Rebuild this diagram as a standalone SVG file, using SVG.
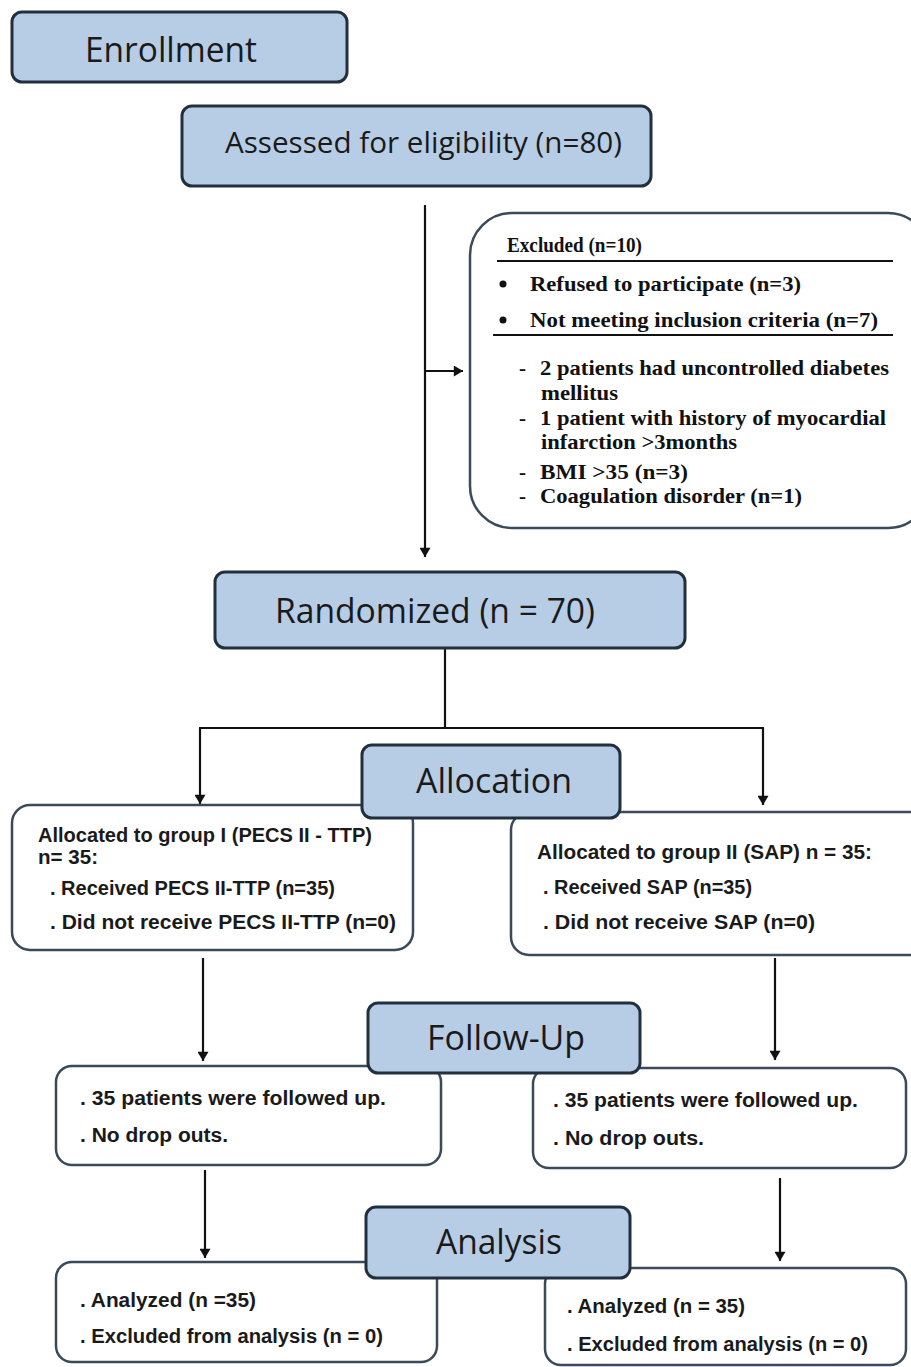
<svg xmlns="http://www.w3.org/2000/svg" width="911" height="1367" viewBox="0 0 911 1367">
<defs>
<marker id="ah" viewBox="0 0 10 12" refX="10" refY="6" markerWidth="12" markerHeight="11" markerUnits="userSpaceOnUse" orient="auto">
<path d="M0,0 L10,6 L0,12 z" fill="#111"/>
</marker>
<style>
.blue{fill:#b7cde5;stroke:#22303e;stroke-width:3}
.white{fill:#fff;stroke:#3b4a5a;stroke-width:2.5}
.hd{font-family:"Open Sans","Liberation Sans",sans-serif;fill:#1a1a1a}
.ser{font-family:"Liberation Serif",serif;font-size:21px;font-weight:bold;fill:#111}
.bd{font-family:"Liberation Sans",sans-serif;font-weight:bold;font-size:19.5px;fill:#1a1a1a}
.ln{stroke:#111;stroke-width:2.2;fill:none}
</style>
</defs>
<rect width="911" height="1367" fill="#fff"/>

<g id="connectors">
<line class="ln" x1="425" y1="205" x2="425" y2="557" marker-end="url(#ah)"/>
<line class="ln" x1="425" y1="371" x2="463" y2="371" marker-end="url(#ah)"/>
<line class="ln" x1="445" y1="648" x2="445" y2="728"/>
<line class="ln" x1="199" y1="728" x2="764" y2="728"/>
<line class="ln" x1="200" y1="728" x2="200" y2="804" marker-end="url(#ah)"/>
<line class="ln" x1="763" y1="728" x2="763" y2="805" marker-end="url(#ah)"/>
<line class="ln" x1="203" y1="958" x2="203" y2="1061" marker-end="url(#ah)"/>
<line class="ln" x1="775" y1="958" x2="775" y2="1060" marker-end="url(#ah)"/>
<line class="ln" x1="205" y1="1170" x2="205" y2="1258" marker-end="url(#ah)"/>
<line class="ln" x1="780" y1="1178" x2="780" y2="1261" marker-end="url(#ah)"/>
</g>

<g id="enrollment">
<rect class="blue" x="12" y="12" width="335" height="70" rx="10"/>
<text class="hd" x="85" y="62" font-size="34" textLength="172" lengthAdjust="spacingAndGlyphs">Enrollment</text>
</g>

<g id="assessed">
<rect class="blue" x="182" y="106" width="469" height="80" rx="10"/>
<text class="hd" x="225" y="153" font-size="30" textLength="397" lengthAdjust="spacingAndGlyphs">Assessed for eligibility (n=80)</text>
</g>

<g id="excluded">
<rect class="white" x="470" y="213" width="460" height="315" rx="42"/>
<text class="ser" x="507" y="252" textLength="135" lengthAdjust="spacingAndGlyphs">Excluded (n=10)</text>
<line x1="497" y1="261" x2="893" y2="261" stroke="#111" stroke-width="2"/>
<circle cx="503" cy="284" r="3.5" fill="#111"/>
<text class="ser" x="530" y="291" textLength="271" lengthAdjust="spacingAndGlyphs">Refused to participate (n=3)</text>
<circle cx="503" cy="320" r="3.5" fill="#111"/>
<text class="ser" x="530" y="327" textLength="348" lengthAdjust="spacingAndGlyphs">Not meeting inclusion criteria (n=7)</text>
<line x1="493" y1="335" x2="893" y2="335" stroke="#111" stroke-width="2"/>
<text class="ser" x="519" y="375">-</text>
<text class="ser" x="540" y="375" textLength="349" lengthAdjust="spacingAndGlyphs">2 patients had uncontrolled diabetes</text>
<text class="ser" x="541" y="400" textLength="77" lengthAdjust="spacingAndGlyphs">mellitus</text>
<text class="ser" x="519" y="425">-</text>
<text class="ser" x="540" y="425" textLength="346" lengthAdjust="spacingAndGlyphs">1 patient with history of myocardial</text>
<text class="ser" x="541" y="449" textLength="196" lengthAdjust="spacingAndGlyphs">infarction &gt;3months</text>
<text class="ser" x="519" y="479">-</text>
<text class="ser" x="540" y="479" textLength="148" lengthAdjust="spacingAndGlyphs">BMI &gt;35 (n=3)</text>
<text class="ser" x="519" y="503">-</text>
<text class="ser" x="540" y="503" textLength="262" lengthAdjust="spacingAndGlyphs">Coagulation disorder (n=1)</text>
</g>

<g id="randomized">
<rect class="blue" x="215" y="572" width="470" height="76" rx="10"/>
<text class="hd" x="275" y="623" font-size="34" textLength="320" lengthAdjust="spacingAndGlyphs">Randomized (n = 70)</text>
</g>

<g id="group1-alloc">
<rect class="white" x="12" y="805" width="401" height="145" rx="18"/>
<text class="bd" x="38" y="842" textLength="334" lengthAdjust="spacingAndGlyphs">Allocated to group I (PECS II - TTP)</text>
<text class="bd" x="38" y="864" textLength="60" lengthAdjust="spacingAndGlyphs">n= 35:</text>
<text class="bd" x="50" y="895" textLength="285" lengthAdjust="spacingAndGlyphs">. Received PECS II-TTP (n=35)</text>
<text class="bd" x="50" y="929" textLength="346" lengthAdjust="spacingAndGlyphs">. Did not receive PECS II-TTP  (n=0)</text>
</g>

<g id="group2-alloc">
<rect class="white" x="511" y="812" width="420" height="143" rx="18"/>
<text class="bd" x="537" y="859" textLength="335" lengthAdjust="spacingAndGlyphs">Allocated to group II (SAP) n = 35:</text>
<text class="bd" x="543" y="894" textLength="209" lengthAdjust="spacingAndGlyphs">. Received SAP (n=35)</text>
<text class="bd" x="543" y="929" textLength="272" lengthAdjust="spacingAndGlyphs">. Did not receive SAP   (n=0)</text>
</g>

<g id="allocation">
<rect class="blue" x="362" y="745" width="258" height="73" rx="10"/>
<text class="hd" x="416" y="793" font-size="34" textLength="156" lengthAdjust="spacingAndGlyphs">Allocation</text>
</g>

<g id="group1-follow">
<rect class="white" x="56" y="1066" width="385" height="99" rx="16"/>
<text class="bd" x="80" y="1105" textLength="306" lengthAdjust="spacingAndGlyphs">. 35 patients were followed up.</text>
<text class="bd" x="80" y="1142" textLength="148" lengthAdjust="spacingAndGlyphs">. No drop outs.</text>
</g>

<g id="group2-follow">
<rect class="white" x="533" y="1068" width="373" height="100" rx="16"/>
<text class="bd" x="553" y="1107" textLength="305" lengthAdjust="spacingAndGlyphs">. 35 patients were followed up.</text>
<text class="bd" x="553" y="1145" textLength="151" lengthAdjust="spacingAndGlyphs">. No drop outs.</text>
</g>

<g id="followup">
<rect class="blue" x="368" y="1003" width="272" height="70" rx="10"/>
<text class="hd" x="427" y="1050" font-size="34" textLength="158" lengthAdjust="spacingAndGlyphs">Follow-Up</text>
</g>

<g id="group1-analysis">
<rect class="white" x="56" y="1262" width="381" height="100" rx="16"/>
<text class="bd" x="80" y="1307" textLength="176" lengthAdjust="spacingAndGlyphs">. Analyzed (n =35)</text>
<text class="bd" x="80" y="1343" textLength="303" lengthAdjust="spacingAndGlyphs">. Excluded from analysis (n = 0)</text>
</g>

<g id="group2-analysis">
<rect class="white" x="545" y="1268" width="361" height="97" rx="16"/>
<text class="bd" x="567" y="1313" textLength="178" lengthAdjust="spacingAndGlyphs">. Analyzed (n = 35)</text>
<text class="bd" x="567" y="1351" textLength="301" lengthAdjust="spacingAndGlyphs">. Excluded from analysis (n = 0)</text>
</g>

<g id="analysis">
<rect class="blue" x="366" y="1207" width="264" height="71" rx="10"/>
<text class="hd" x="436" y="1254" font-size="34" textLength="126" lengthAdjust="spacingAndGlyphs">Analysis</text>
</g>
</svg>
